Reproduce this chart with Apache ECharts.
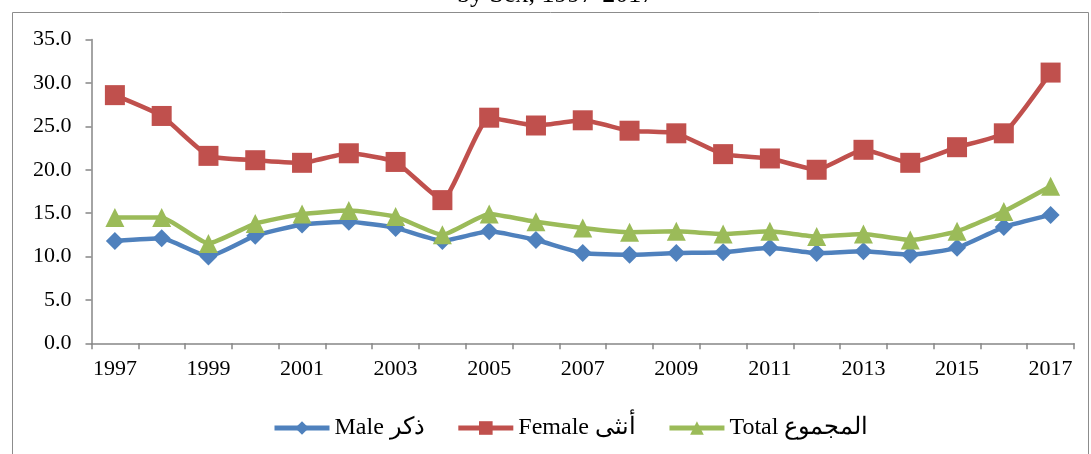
<!DOCTYPE html>
<html>
<head>
<meta charset="utf-8">
<script src="https://cdn.jsdelivr.net/npm/echarts@6/dist/echarts.min.js"></script>
<style>
  html, body { margin: 0; padding: 0; background: #fff; }
  #chart { width: 1091px; height: 454px; }
</style>
</head>
<body>
<div id="chart"></div>
<script>
// years on the x axis
const years = ['1997','1998','1999','2000','2001','2002','2003','2004','2005','2006','2007',
               '2008','2009','2010','2011','2012','2013','2014','2015','2016','2017'];
// values
const maleValues   = [11.8, 12.1, 10.0, 12.4, 13.7, 14.0, 13.3, 11.8, 12.9, 11.9, 10.4,
                      10.2, 10.4, 10.5, 11.0, 10.4, 10.6, 10.2, 11.0, 13.4, 14.8];
const femaleValues = [28.6, 26.2, 21.6, 21.1, 20.8, 21.9, 20.9, 16.5, 26.0, 25.1, 25.7,
                      24.5, 24.2, 21.8, 21.3, 20.0, 22.3, 20.8, 22.6, 24.2, 31.2];
const totalValues  = [14.5, 14.5, 11.5, 13.8, 14.9, 15.3, 14.6, 12.5, 14.9, 14.0, 13.3,
                      12.8, 12.9, 12.6, 12.9, 12.3, 12.6, 11.9, 12.9, 15.2, 18.1];
const seriesNames = ['Male ذكر', 'Female أنثى', 'Total المجموع'];

const font = 'Liberation Serif';
const axisGray = '#868686';

let chart = echarts.init(document.getElementById('chart'));

let option = {
    backgroundColor: '#fff',
    animation: false,
    textStyle: { fontFamily: font },
    title: {
        // only the lower edge of the title shows in the picture
        text: 'by Sex, 1997-2017',
        left: 452,
        top: -23,
        textStyle: { fontFamily: font, fontSize: 26, fontWeight: 'normal', color: '#000' }
    },
    graphic: [
        {   // outer chart frame
            type: 'rect',
            shape: { x: 12.5, y: 12.5, width: 1076, height: 460 },
            style: { fill: 'none', stroke: '#8c8c8c', lineWidth: 1 },
            silent: true
        }
    ],
    legend: {
        data: seriesNames,
        left: 267,
        top: 411,
        itemWidth: 55,
        itemHeight: 17,
        itemGap: 31,
        lineStyle: { width: 5 },
        textStyle: { fontFamily: font, fontSize: 24, color: '#000' }
    },
    grid: {
        left: 91.5,
        right: 17,
        top: 39.6,
        bottom: 110.7
    },
    xAxis: {
        type: 'category',
        data: years,
        boundaryGap: true,
        axisLine: { lineStyle: { color: axisGray, width: 1.5 } },
        axisTick: { show: true, length: 6, interval: 0, lineStyle: { color: axisGray, width: 1.5 } },
        axisLabel: {
            interval: 1,
            margin: 15,
            color: '#000',
            fontFamily: font,
            fontSize: 22
        },
        splitLine: { show: false }
    },
    yAxis: {
        type: 'value',
        min: 0,
        max: 35,
        interval: 5,
        axisLine: { show: true, lineStyle: { color: axisGray, width: 1.5 } },
        axisTick: { show: true, length: 6, lineStyle: { color: axisGray, width: 1.5 } },
        axisLabel: {
            margin: 20,
            color: '#000',
            fontFamily: font,
            fontSize: 22,
            formatter: function (v) { return v.toFixed(1); }
        },
        splitLine: { show: false }
    },
    series: [
        {
            name: seriesNames[0],
            type: 'line',
            data: maleValues,
            smooth: 0.15,
            symbol: 'diamond',
            symbolSize: 18,
            itemStyle: { color: '#4F81BD' },
            lineStyle: { color: '#4F81BD', width: 4.5 },
            z: 3
        },
        {
            name: seriesNames[1],
            type: 'line',
            data: femaleValues,
            smooth: 0.15,
            symbol: 'rect',
            symbolSize: 20,
            itemStyle: { color: '#C0504D' },
            lineStyle: { color: '#C0504D', width: 4.5 },
            z: 4
        },
        {
            name: seriesNames[2],
            type: 'line',
            data: totalValues,
            smooth: 0.15,
            symbol: 'triangle',
            symbolSize: 19,
            itemStyle: { color: '#9BBB59' },
            lineStyle: { color: '#9BBB59', width: 4.5 },
            z: 5
        }
    ]
};

chart.setOption(option);
</script>
</body>
</html>
